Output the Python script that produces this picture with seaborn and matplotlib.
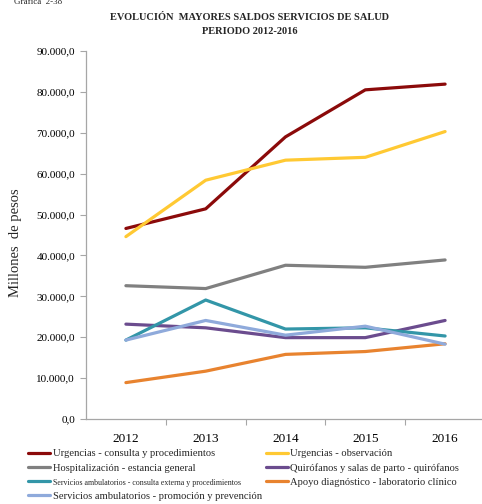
import matplotlib
matplotlib.use("Agg")
import matplotlib.pyplot as plt
from matplotlib.ticker import FuncFormatter, FixedLocator
import seaborn as sns
import pandas as pd

years = ["2012", "2013", "2014", "2015", "2016"]

urg_consulta = [46.6, 51.4, 69.0, 80.5, 81.9]
urg_observacion = [44.6, 58.4, 63.3, 64.0, 70.3]
hosp_estancia = [32.6, 31.9, 37.6, 37.1, 38.9]
quirofanos = [23.2, 22.3, 19.9, 19.9, 24.1]
amb_consulta = [19.3, 29.1, 22.0, 22.3, 20.3]
apoyo_lab = [8.9, 11.7, 15.8, 16.5, 18.4]
amb_promocion = [19.3, 24.1, 20.5, 22.7, 18.3]

series_names = [
    "Urgencias - consulta y procedimientos",
    "Urgencias - observación",
    "Hospitalización - estancia general",
    "Quirófanos y salas de parto - quirófanos",
    "Servicios ambulatorios - consulta externa y procedimientos",
    "Apoyo diagnóstico - laboratorio clínico",
    "Servicios ambulatorios - promoción y prevención",
]
series_values = [urg_consulta, urg_observacion, hosp_estancia, quirofanos,
                 amb_consulta, apoyo_lab, amb_promocion]
colors = ["#8B0A0A", "#FFC933", "#808080", "#6B4C8E",
          "#3396A8", "#E8832F", "#8FAADB"]

rows = []
for name, vals in zip(series_names, series_values):
    for i, (yr, v) in enumerate(zip(years, vals)):
        rows.append({"pos": i, "year": yr, "serie": name, "valor": v * 1000})
df = pd.DataFrame(rows)

sns.set_theme(style="white")
plt.rcParams["font.family"] = ["Liberation Serif", "DejaVu Serif"]

fig = plt.figure(figsize=(4.82, 5.04), dpi=100)
ax = fig.add_axes([86 / 482, 1 - 419 / 504, 399 / 482, 368 / 504])

sns.lineplot(data=df, x="pos", y="valor", hue="serie", hue_order=series_names,
             palette=colors, linewidth=2.3, ax=ax, legend=True, sort=False)

ax.set_xlim(-0.5, 4.5)
ax.set_ylim(0, 90000)
ax.set_yticks(range(0, 90001, 10000))
ax.yaxis.set_major_formatter(FuncFormatter(
    lambda v, p: f"{v:,.1f}".replace(",", "X").replace(".", ",").replace("X", ".")))
ax.set_xticks(range(len(years)))
ax.set_xticklabels(years)
ax.xaxis.set_minor_locator(FixedLocator([0.5, 1.5, 2.5, 3.5]))
ax.tick_params(axis="x", which="major", length=0, pad=10, labelsize=9.5, colors="black")
ax.tick_params(axis="x", which="minor", length=4, width=0.8, color="#A6A6A6", direction="out", bottom=True)
ax.tick_params(axis="y", which="major", length=4, width=0.8, color="#A6A6A6", direction="out",
               left=True, labelsize=8, pad=4, labelcolor="black")
ax.set_xlabel("")
ax.set_ylabel("Millones  de pesos", fontsize=10.5)
ax.yaxis.set_label_coords(-0.16, 0.48)

for s in ["top", "right"]:
    ax.spines[s].set_visible(False)
for s in ["left", "bottom"]:
    ax.spines[s].set_color("#A6A6A6")
    ax.spines[s].set_linewidth(0.9)

handles, labels = ax.get_legend_handles_labels()
ax.get_legend().remove()
order = [0, 2, 4, 6, 1, 3, 5]
leg = fig.legend([handles[i] for i in order], [labels[i] for i in order],
                 ncol=2, loc="upper left", bbox_to_anchor=(28 / 482, 1 - 449 / 504),
                 frameon=False, fontsize=7.6, handlelength=2.1, handletextpad=0.25,
                 columnspacing=0.35, labelspacing=0.45, borderpad=0, borderaxespad=0)
for line in leg.get_lines():
    line.set_linewidth(2.3)
leg.get_texts()[2].set_fontsize(5.7)

fig.text(0.518, 1 - 17 / 504, "EVOLUCIÓN  MAYORES SALDOS SERVICIOS DE SALUD",
         ha="center", va="center", fontsize=7.5, fontweight="bold")
fig.text(0.518, 1 - 31 / 504, "PERIODO 2012-2016",
         ha="center", va="center", fontsize=7.5, fontweight="bold")
fig.text(14 / 482, 1 - 2 / 504, "Gráfica  2-38", ha="left", va="center", fontsize=6.5)

fig.savefig("out.png", dpi=100)
